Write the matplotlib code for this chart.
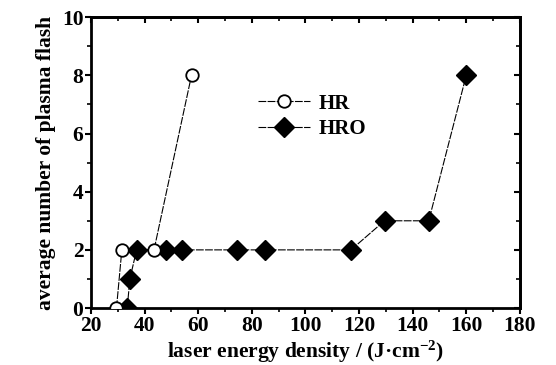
import matplotlib
matplotlib.use('Agg')
import matplotlib.pyplot as plt
from matplotlib import font_manager as fm

plt.rcParams['font.family'] = 'Liberation Serif'
plt.rcParams['font.weight'] = 'bold'
plt.rcParams['axes.labelweight'] = 'bold'
plt.rcParams['mathtext.fontset'] = 'custom'
plt.rcParams['mathtext.rm'] = 'Liberation Serif:bold'
plt.rcParams['mathtext.bf'] = 'Liberation Serif:bold'
plt.rcParams['mathtext.default'] = 'bf'

# data
hr_x = [29.5, 31.5, 43.5, 57.5]
hr_y = [0, 2, 2, 8]
hro_x = [33.5, 34.5, 37, 48, 54, 74.5, 85, 117, 129.5, 146, 160]
hro_y = [0, 1, 2, 2, 2, 2, 2, 2, 3, 3, 8]
x_ticks = [20, 40, 60, 80, 100, 120, 140, 160, 180]
y_ticks = [0, 2, 4, 6, 8, 10]

bold_path = fm.findfont(fm.FontProperties(family='Liberation Serif', weight='bold'))
tick_font = fm.FontProperties(fname=bold_path, size=15.5)

fig = plt.figure(figsize=(5.56, 3.65), dpi=100)
ax = fig.add_axes([0.1637, 0.156, 0.7713, 0.797])

ax.plot(hr_x, hr_y, color='black', lw=0.8, dashes=(7, 1.2),
        marker='o', ms=9, mfc='white', mec='black', mew=1.3, label='HR', zorder=3)
ax.plot(hro_x, hro_y, color='black', lw=0.8, dashes=(7, 1.2),
        marker='D', ms=10.5, mfc='black', mec='black', label='HRO', zorder=2)

ax.set_xlim(20, 180)
ax.set_ylim(0, 10)
ax.tick_params(which='major', direction='out', length=4, width=1.5, pad=1.5, labelsize=15.5)
ax.tick_params(which='minor', direction='out', length=3, width=1.2)
ax.set_xticks(x_ticks, labels=[str(v) for v in x_ticks], fontproperties=tick_font)
ax.set_yticks(y_ticks, labels=[str(v) for v in y_ticks], fontproperties=tick_font)
ax.set_xticks(range(30, 180, 20), minor=True)
ax.set_yticks(range(1, 10, 2), minor=True)

for s in ax.spines.values():
    s.set_linewidth(2)

# mirrored ticks pointing inward on top and right
top = ax.secondary_xaxis('top')
top.set_xticks(x_ticks)
top.set_xticks(range(30, 180, 20), minor=True)
top.tick_params(which='major', direction='in', length=4, width=1.5, labeltop=False)
top.tick_params(which='minor', direction='in', length=3, width=1.2)
top.spines['top'].set_linewidth(2)
right = ax.secondary_yaxis('right')
right.set_yticks(y_ticks)
right.set_yticks(range(1, 10, 2), minor=True)
right.tick_params(which='major', direction='in', length=4, width=1.5, labelright=False)
right.tick_params(which='minor', direction='in', length=3, width=1.2)
right.spines['right'].set_linewidth(2)

ax.set_xlabel('laser energy density / (J\u00b7cm$^{-2}$)', fontsize=15.5, fontweight='bold', labelpad=2)
ax.set_ylabel('average number of plasma flash', fontsize=15.5, fontweight='bold', labelpad=4)

leg = ax.legend(loc='upper left', bbox_to_anchor=(0.366, 0.773), frameon=False,
                prop={'size': 15},
                handlelength=2.5, handletextpad=0.4, labelspacing=0.25, borderpad=0)

# force the bold file on tick labels and legend texts
fig.canvas.draw()
for lab in ax.get_xticklabels() + ax.get_yticklabels():
    lab.set_fontproperties(tick_font)
for t in leg.get_texts():
    t.set_fontproperties(fm.FontProperties(fname=bold_path, size=15))

fig.savefig('out.png', dpi=100)
